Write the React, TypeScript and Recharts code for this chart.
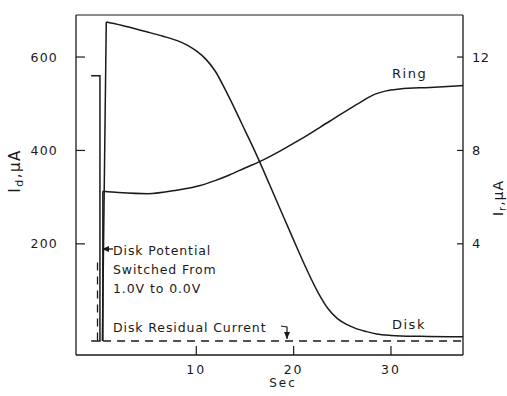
import React from "react";
import { LineChart, Line, XAxis, YAxis, Customized } from "recharts";

// Rotating ring-disk electrode: disk and ring current transients after a potential step.
const timeTicks = [10, 20, 30];
const diskTicks = [200, 400, 600];
const ringTicks = [4, 8, 12];

// Disk current before the step (µA)
const diskPreTime = [-0.8, 0.1, 0.1, -0.8];
const diskPreValue = [560, 560, -8, -8];

// Disk current rise right after the step (µA)
const diskRiseTime = [0.35, 0.75];
const diskRiseValue = [-8, 675];

// Disk current decay (µA)
const diskTime = [0.75, 2.3, 4.9, 6.5, 8.3, 9.2, 10, 11, 12, 13, 14, 15, 16, 16.5, 17.5, 18.5, 19.5, 20.5, 21.5, 22.5, 23.5, 24.5, 25.5, 26.5, 27.5, 28.5, 30, 33, 37.4];
const diskValue = [675, 668, 654, 645, 633, 624, 613, 595, 568, 529, 487, 443, 399, 376, 328, 280, 232, 184, 138, 96, 62, 40, 27, 18, 12, 7, 4, 2, 1];

// Ring current rise right after the step (µA)
const ringRiseTime = [0.4, 0.4];
const ringRiseValue = [-0.16, 6.25];

// Ring current (µA)
const ringTime = [0.4, 2, 5, 8, 10.4, 12, 13.4, 15, 16.5, 18.5, 20.6, 23.7, 26.8, 28.3, 29.5, 30.9, 34, 37.4];
const ringValue = [6.25, 6.2, 6.15, 6.3, 6.5, 6.72, 6.95, 7.25, 7.52, 7.95, 8.45, 9.25, 10.05, 10.4, 10.55, 10.63, 10.7, 10.78];

// Disk residual current (µA), dashed
const residualTime = [-0.15, -0.15, 37.4];
const residualValue = [160, -8, -8];

const toRows = (t: number[], v: number[]) => t.map((x, i) => ({ t: x, v: v[i] }));

const W = 507;
const H = 396;
const PLOT_LEFT = 76;
const PLOT_RIGHT = 463;
const PLOT_TOP = 15;
const PLOT_BOTTOM = 355;
const INK = "#1a1a1a";
const FONT = "'DejaVu Sans', sans-serif";

const LeftTick = (props: any) => {
  const { y, payload } = props;
  return (
    <g>
      <line x1={PLOT_LEFT} x2={PLOT_LEFT + 9} y1={y} y2={y} stroke={INK} strokeWidth={1.2} />
      <text x={58} y={y} dy={4.5} textAnchor="end" fontSize={12.5} letterSpacing={1.2} fill={INK} fontFamily={FONT}>
        {payload.value}
      </text>
    </g>
  );
};

const RightTick = (props: any) => {
  const { y, payload } = props;
  return (
    <g>
      <line x1={PLOT_RIGHT - 6} x2={PLOT_RIGHT} y1={y} y2={y} stroke={INK} strokeWidth={1.2} />
      <text x={472} y={y} dy={4.5} textAnchor="start" fontSize={13} letterSpacing={0.5} fill={INK} fontFamily={FONT}>
        {payload.value}
      </text>
    </g>
  );
};

const BottomTick = (props: any) => {
  const { x, payload } = props;
  return (
    <g>
      <line x1={x} x2={x} y1={PLOT_BOTTOM} y2={PLOT_BOTTOM - 9} stroke={INK} strokeWidth={1.2} />
      <text x={x} y={374} textAnchor="middle" fontSize={12.5} letterSpacing={2} fill={INK} fontFamily={FONT}>
        {payload.value}
      </text>
    </g>
  );
};

const Notes = () => (
  <g fontFamily={FONT} fill={INK}>
    <defs>
      <marker id="head" markerWidth="8" markerHeight="8" refX="7" refY="4" orient="auto" markerUnits="userSpaceOnUse">
        <path d="M0,1 L7,4 L0,7 Z" fill={INK} />
      </marker>
    </defs>
    {/* frame top edge */}
    <line x1={PLOT_LEFT} x2={PLOT_RIGHT} y1={PLOT_TOP} y2={PLOT_TOP} stroke={INK} strokeWidth={1.1} />
    {/* axis titles */}
    <text transform="translate(20,171) rotate(-90)" textAnchor="middle" fontSize={15} letterSpacing={1.5}>
      I<tspan fontSize={11} dy={3}>d</tspan>
      <tspan dy={-3}>,µA</tspan>
    </text>
    <text transform="translate(503,198) rotate(-90)" textAnchor="middle" fontSize={14} letterSpacing={1}>
      I<tspan fontSize={10} dy={3}>r</tspan>
      <tspan dy={-3}>,µA</tspan>
    </text>
    <text x={283} y={387} textAnchor="middle" fontSize={12} letterSpacing={2}>Sec</text>
    {/* curve labels */}
    <text x={392} y={78} fontSize={13} letterSpacing={1.5}>Ring</text>
    <text x={392} y={329} fontSize={13} letterSpacing={1.5}>Disk</text>
    {/* potential-step note */}
    <line x1={113} y1={249} x2={102} y2={249} stroke={INK} strokeWidth={1.3} markerEnd="url(#head)" />
    <text x={113} y={255} fontSize={12.5} letterSpacing={0.9}>Disk Potential</text>
    <text x={113} y={274} fontSize={12.5} letterSpacing={0.9}>Switched From</text>
    <text x={113} y={293} fontSize={12.5} letterSpacing={0.9}>1.0V to 0.0V</text>
    {/* residual note */}
    <text x={113} y={332} fontSize={12.5} letterSpacing={0.9}>Disk Residual Current</text>
    <polyline points="281,326 287,327 287,339" fill="none" stroke={INK} strokeWidth={1.2} markerEnd="url(#head)" />
  </g>
);

export default function App() {
  const lineProps = {
    xAxisId: "bottom",
    dot: false,
    activeDot: false,
    stroke: INK,
    strokeWidth: 1.5,
    isAnimationActive: false,
  } as const;

  return (
    <div style={{ position: "absolute", left: 0, top: 0, width: W, height: H, background: "#fff" }}>
      <LineChart width={W} height={H} margin={{ top: PLOT_TOP, right: 0, bottom: 0, left: 0 }}>
        <XAxis
          xAxisId="bottom"
          type="number"
          dataKey="t"
          domain={[-2.36, 37.4]}
          allowDataOverflow
          ticks={timeTicks}
          height={H - PLOT_BOTTOM}
          tickLine={false}
          tickSize={0}
          axisLine={{ stroke: INK, strokeWidth: 1.3 }}
          tick={<BottomTick />}
        />
        <YAxis
          yAxisId="left"
          type="number"
          domain={[-38, 690]}
          allowDataOverflow
          ticks={diskTicks}
          width={PLOT_LEFT}
          tickLine={false}
          tickSize={0}
          axisLine={{ stroke: INK, strokeWidth: 1.3 }}
          tick={<LeftTick />}
        />
        <YAxis
          yAxisId="right"
          orientation="right"
          type="number"
          domain={[-0.76, 13.8]}
          allowDataOverflow
          ticks={ringTicks}
          width={W - PLOT_RIGHT}
          tickLine={false}
          tickSize={0}
          axisLine={{ stroke: INK, strokeWidth: 1.3 }}
          tick={<RightTick />}
        />
        <Line {...lineProps} yAxisId="left" data={toRows(diskPreTime, diskPreValue)} dataKey="v" type="linear" />
        <Line {...lineProps} yAxisId="left" data={toRows(diskRiseTime, diskRiseValue)} dataKey="v" type="linear" />
        <Line {...lineProps} yAxisId="left" data={toRows(diskTime, diskValue)} dataKey="v" type="monotone" />
        <Line {...lineProps} yAxisId="right" data={toRows(ringRiseTime, ringRiseValue)} dataKey="v" type="linear" />
        <Line {...lineProps} yAxisId="right" data={toRows(ringTime, ringValue)} dataKey="v" type="monotone" />
        <Line
          {...lineProps}
          yAxisId="left"
          data={toRows(residualTime, residualValue)}
          dataKey="v"
          type="linear"
          strokeWidth={1.3}
          strokeDasharray="8 6"
        />
        <Customized component={<Notes />} />
      </LineChart>
    </div>
  );
}
